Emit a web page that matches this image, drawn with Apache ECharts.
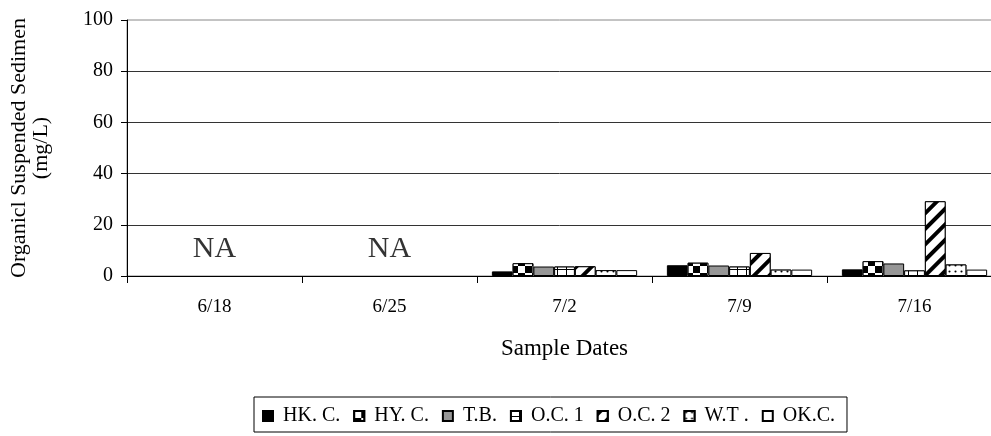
<!DOCTYPE html>
<html>
<head>
<meta charset="utf-8">
<script src="https://cdn.jsdelivr.net/npm/echarts@6/dist/echarts.min.js"></script>
<style>
  html, body { margin: 0; padding: 0; background: #fff; }
  #chart { width: 991px; height: 436px; }
</style>
</head>
<body>
<div id="chart"></div>
<script>
// Sample dates (x categories)
const categories = ['6/18', '6/25', '7/2', '7/9', '7/16'];
// Organic suspended sediment (mg/L) per site; null = not sampled
const hkC  = [null, null, 1.8, 4.2, 2.6];
const hyC  = [null, null, 5.0, 5.2, 5.8];
const tB   = [null, null, 3.7, 4.1, 4.9];
const oc1  = [null, null, 3.7, 3.7, 2.2];
const oc2  = [null, null, 3.8, 9.0, 29.2];
const wT   = [null, null, 2.3, 2.5, 4.5];
const okC  = [null, null, 2.3, 2.5, 2.5];
// Dates without data, marked "NA"
const naDates = ['6/18', '6/25'];
const yTicks = { min: 0, max: 100, interval: 20 };

const FONT = 'Liberation Serif';
const border = { borderColor: '#000', borderWidth: 1 };

function bar(name, data, itemStyle) {
  return {
    name, type: 'bar', data,
    barGap: '0%', barCategoryGap: '17%',
    itemStyle: Object.assign({}, border, itemStyle)
  };
}

const NA_Y = 10.4;

const option = {
  animation: false,
  backgroundColor: '#fff',
  textStyle: { fontFamily: FONT, color: '#000' },
  grid: {
    left: 127, top: 20, width: 875, height: 256,
    outerBoundsMode: 'none', containLabel: false,
    show: true, borderColor: '#888', borderWidth: 1, backgroundColor: 'transparent'
  },
  legend: {
    data: ['HK. C.', 'HY. C.', 'T.B.', 'O.C. 1', 'O.C. 2', 'W.T .', 'OK.C.'],
    formatter: name => ' ' + name,
    left: 254, top: 397,
    padding: [9, 12, 6, 8],
    icon: 'rect',
    itemGap: 13, itemWidth: 10, itemHeight: 10,
    borderColor: '#000', borderWidth: 1,
    textStyle: { fontFamily: FONT, fontSize: 20, color: '#000' }
  },
  xAxis: {
    type: 'category', data: categories,
    name: 'Sample Dates', nameLocation: 'middle', nameGap: 61,
    nameTextStyle: { fontFamily: FONT, fontSize: 23, color: '#000' },
    axisLine: { lineStyle: { color: '#000', width: 1 } },
    axisTick: { show: true, length: 7, interval: 0, lineStyle: { color: '#000' } },
    axisLabel: { fontFamily: FONT, fontSize: 19, color: '#000', margin: 22, interval: 0 }
  },
  yAxis: {
    type: 'value', min: yTicks.min, max: yTicks.max, interval: yTicks.interval,
    name: 'Organicl Suspended Sedimen\n(mg/L)', nameLocation: 'middle', nameGap: 75,
    nameTextStyle: { fontFamily: FONT, fontSize: 22, color: '#000', lineHeight: 22 },
    axisLine: { show: true, lineStyle: { color: '#000', width: 1 } },
    axisTick: { show: true, length: 6, lineStyle: { color: '#000' } },
    axisLabel: { fontFamily: FONT, fontSize: 20, color: '#000', margin: 14 },
    splitLine: { show: true, showMaxLine: false, lineStyle: { color: '#333', width: 1 } }
  },
  series: [
    bar('HK. C.', hkC, { color: '#000' }),
    bar('HY. C.', hyC, {
      color: '#fff',
      decal: { symbol: 'rect', symbolSize: 1, color: '#000', backgroundColor: '#fff',
               dashArrayX: [[7, 7], [0, 7, 7, 0]], dashArrayY: [7, 0] }
    }),
    bar('T.B.', tB, { color: '#969696' }),
    bar('O.C. 1', oc1, {
      color: '#fff',
      decal: { symbol: 'rect', symbolSize: 1, color: '#fff', backgroundColor: '#000',
               dashArrayX: [8, 1], dashArrayY: [5, 1] }
    }),
    bar('O.C. 2', oc2, {
      color: '#fff',
      decal: { symbol: 'rect', symbolSize: 1, color: '#000', backgroundColor: '#fff',
               dashArrayX: [1, 0], dashArrayY: [4, 7], rotation: -Math.PI / 4 }
    }),
    bar('W.T .', wT, {
      color: '#fff',
      decal: { symbol: 'circle', symbolSize: 0.7, color: '#000', backgroundColor: '#fff',
               dashArrayX: [3, 3], dashArrayY: [3, 3] }
    }),
    bar('OK.C.', okC, { color: '#fff' }),
    {
      name: 'NA', type: 'scatter', symbolSize: 0, silent: true,
      data: naDates.map(d => [d, NA_Y]),
      label: { show: true, position: 'inside', formatter: 'NA',
               fontFamily: FONT, fontSize: 30, color: '#000' }
    }
  ]
};

const chart = echarts.init(document.getElementById('chart'), null, { renderer: 'canvas' });
chart.setOption(option);
</script>
</body>
</html>
